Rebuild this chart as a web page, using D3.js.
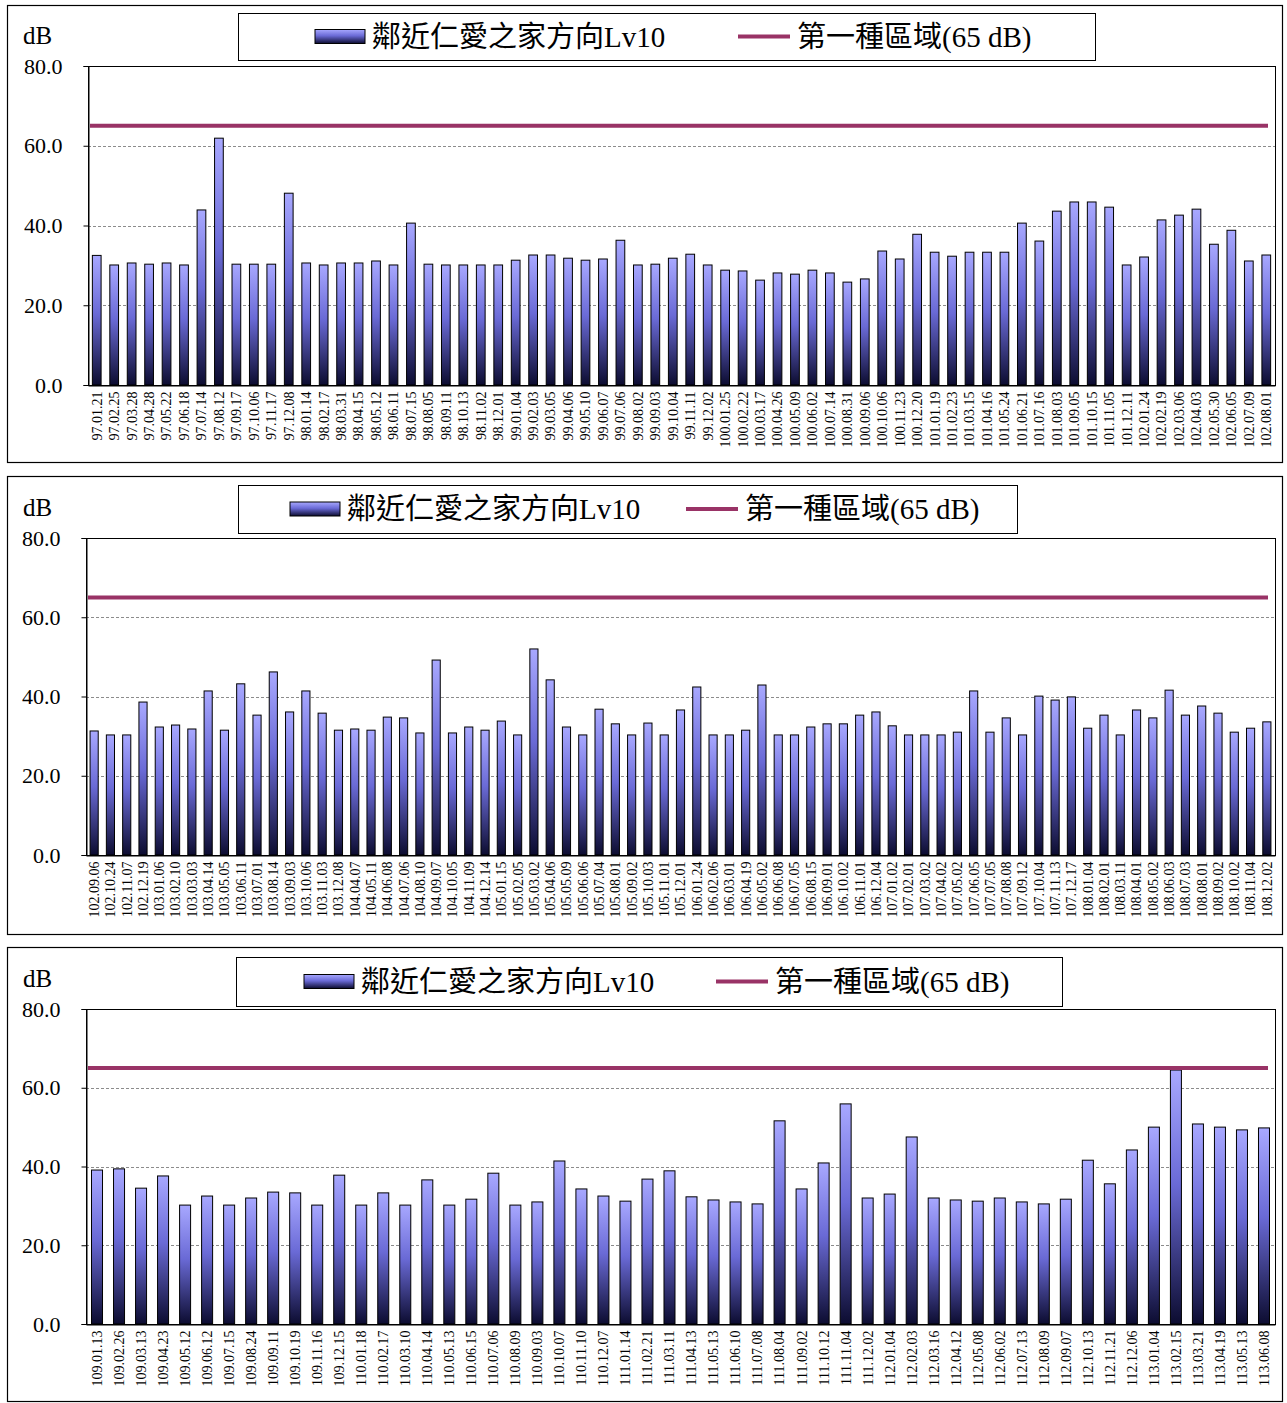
<!DOCTYPE html>
<html>
<head>
<meta charset="utf-8">
<script src="https://cdn.jsdelivr.net/npm/d3@7"></script>
<style>
  html, body { margin: 0; padding: 0; background: #fff; }
  svg { display: block; }
  text { font-family: "Liberation Serif", "Times New Roman", "Noto Sans CJK TC", serif; }
</style>
</head>
<body>
<svg id="chart" width="1287" height="1403"></svg>
<script>
// Survey dates (ROC calendar) and Lv10 noise levels in dB, one set per panel.
const dates1 = ["97.01.21","97.02.25","97.03.28","97.04.28","97.05.22","97.06.18","97.07.14","97.08.12","97.09.17","97.10.06","97.11.17","97.12.08",
  "98.01.14","98.02.17","98.03.31","98.04.15","98.05.12","98.06.11","98.07.15","98.08.05","98.09.11","98.10.13","98.11.02","98.12.01",
  "99.01.04","99.02.03","99.03.05","99.04.06","99.05.10","99.06.07","99.07.06","99.08.02","99.09.03","99.10.04","99.11.11","99.12.02",
  "100.01.25","100.02.22","100.03.17","100.04.26","100.05.09","100.06.02","100.07.14","100.08.31","100.09.06","100.10.06","100.11.23","100.12.20",
  "101.01.19","101.02.23","101.03.15","101.04.16","101.05.24","101.06.21","101.07.16","101.08.03","101.09.05","101.10.15","101.11.05","101.12.11",
  "102.01.24","102.02.19","102.03.06","102.04.03","102.05.30","102.06.05","102.07.09","102.08.01"];
const lv10_1 = [32.5,30.1,30.6,30.3,30.6,30.1,43.9,61.9,30.3,30.3,30.3,48.1,
  30.6,30.1,30.6,30.6,31.1,30.1,40.6,30.3,30.1,30.1,30.1,30.1,
  31.3,32.6,32.6,31.8,31.3,31.6,36.3,30.1,30.3,31.8,32.8,30.1,
  28.8,28.6,26.3,28.1,27.8,28.8,28.1,25.8,26.6,33.6,31.6,37.8,
  33.3,32.3,33.3,33.3,33.3,40.6,36.1,43.6,45.9,45.9,44.6,30.1,
  32.1,41.4,42.6,44.1,35.3,38.8,31.1,32.6];

const dates2 = ["102.09.06","102.10.24","102.11.07","102.12.19","103.01.06","103.02.10","103.03.03","103.04.14","103.05.05","103.06.11","103.07.01","103.08.14",
  "103.09.03","103.10.06","103.11.03","103.12.08","104.04.07","104.05.11","104.06.08","104.07.06","104.08.10","104.09.07","104.10.05","104.11.09",
  "104.12.14","105.01.15","105.02.05","105.03.02","105.04.06","105.05.09","105.06.06","105.07.04","105.08.01","105.09.02","105.10.03","105.11.01",
  "105.12.01","106.01.24","106.02.06","106.03.01","106.04.19","106.05.02","106.06.08","106.07.05","106.08.15","106.09.01","106.10.02","106.11.01",
  "106.12.04","107.01.02","107.02.01","107.03.02","107.04.02","107.05.02","107.06.05","107.07.05","107.08.08","107.09.12","107.10.04","107.11.13",
  "107.12.17","108.01.04","108.02.01","108.03.11","108.04.01","108.05.02","108.06.03","108.07.03","108.08.01","108.09.02","108.10.02","108.11.04",
  "108.12.02"];
const lv10_2 = [31.3,30.3,30.3,38.6,32.3,32.8,31.8,41.4,31.5,43.2,35.3,46.2,
  36.1,41.4,35.8,31.5,31.8,31.5,34.8,34.6,30.8,49.2,30.8,32.3,
  31.5,33.8,30.3,52.0,44.2,32.3,30.3,36.8,33.1,30.3,33.3,30.3,
  36.6,42.4,30.3,30.3,31.5,42.9,30.3,30.3,32.3,33.1,33.1,35.3,
  36.1,32.6,30.3,30.3,30.3,31.0,41.4,31.0,34.6,30.3,40.1,39.1,
  39.9,32.0,35.3,30.3,36.6,34.6,41.6,35.3,37.6,35.8,31.0,32.0,
  33.6];

const dates3 = ["109.01.13","109.02.26","109.03.13","109.04.23","109.05.12","109.06.12","109.07.15","109.08.24","109.09.11","109.10.19","109.11.16","109.12.15",
  "110.01.18","110.02.17","110.03.10","110.04.14","110.05.13","110.06.15","110.07.06","110.08.09","110.09.03","110.10.07","110.11.10","110.12.07",
  "111.01.14","111.02.21","111.03.11","111.04.13","111.05.13","111.06.10","111.07.08","111.08.04","111.09.02","111.10.12","111.11.04","111.12.02",
  "112.01.04","112.02.03","112.03.16","112.04.12","112.05.08","112.06.02","112.07.13","112.08.09","112.09.07","112.10.13","112.11.21","112.12.06",
  "113.01.04","113.02.15","113.03.21","113.04.19","113.05.13","113.06.08"];
const lv10_3 = [39.1,39.4,34.5,37.6,30.2,32.5,30.2,32.0,33.5,33.3,30.2,37.8,
  30.2,33.3,30.2,36.6,30.2,31.7,38.3,30.2,31.0,41.4,34.3,32.5,
  31.2,36.8,38.9,32.3,31.5,31.0,30.5,51.6,34.3,40.9,55.9,32.0,
  33.0,47.5,32.0,31.5,31.2,32.0,31.0,30.5,31.7,41.6,35.6,44.2,
  50.0,64.5,50.8,50.0,49.3,49.8];

// Regulatory limit for the first-class zone, and the value axis ticks.
const limitDb = 65;
const yTicks = [0, 20, 40, 60, 80];
const seriesName = "鄰近仁愛之家方向Lv10";
const limitName = "第一種區域(65 dB)";
const unitLabel = "dB";

const svg = d3.select("#chart");

// Gradient used by every bar: pale periwinkle top fading to deep navy.
const defs = svg.append("defs");
const grad = defs.append("linearGradient")
  .attr("id", "barGrad").attr("x1", 0).attr("y1", 0).attr("x2", 0).attr("y2", 1);
grad.append("stop").attr("offset", "0%").attr("stop-color", "#a8a8ff");
grad.append("stop").attr("offset", "45%").attr("stop-color", "#6a6ad6");
grad.append("stop").attr("offset", "100%").attr("stop-color", "#0c0c30");

const panels = [
  { dates: dates1, values: lv10_1,
    frame: [7, 5, 1282, 462], plot: [88, 66, 1275, 385],
    legend: { box: [238, 13, 1095, 60], sw: 315, line: 738 } },
  { dates: dates2, values: lv10_2,
    frame: [7, 476, 1282, 934], plot: [86, 538, 1275, 855],
    legend: { box: [238, 485, 1017, 533], sw: 290, line: 686 } },
  { dates: dates3, values: lv10_3,
    frame: [7, 947, 1282, 1401], plot: [86, 1009, 1275, 1324],
    legend: { box: [236, 957, 1062, 1006], sw: 304, line: 716 } }
];

panels.forEach(p => {
  const g = svg.append("g");
  const [fx0, fy0, fx1, fy1] = p.frame;
  const [px0, py0, px1, py1] = p.plot;

  // outer chart frame
  g.append("rect").attr("x", fx0 + 0.5).attr("y", fy0 + 0.5)
    .attr("width", fx1 - fx0).attr("height", fy1 - fy0)
    .attr("fill", "#fff").attr("stroke", "#000").attr("stroke-width", 1.2);

  const x = d3.scaleBand().domain(p.dates).range([px0, px1]).paddingInner(0.5).paddingOuter(0.25);
  const y = d3.scaleLinear().domain([0, 80]).range([py1, py0]);

  // dashed gridlines
  g.append("g").selectAll("line").data(yTicks.filter(t => t > 0 && t < 80)).join("line")
    .attr("x1", px0).attr("x2", px1)
    .attr("y1", d => Math.round(y(d)) + 0.5).attr("y2", d => Math.round(y(d)) + 0.5)
    .attr("stroke", "#8c8c8c").attr("stroke-width", 1).attr("stroke-dasharray", "3,2");

  // plot area border
  g.append("rect").attr("x", px0 + 0.5).attr("y", Math.round(y(80)) + 0.5)
    .attr("width", px1 - px0).attr("height", Math.round(y(0)) - Math.round(y(80)))
    .attr("fill", "none").attr("stroke", "#000").attr("stroke-width", 1);

  // bars
  g.append("g").selectAll("rect").data(p.values.map((v, i) => ({ d: p.dates[i], v })))
    .join("rect")
    .attr("x", d => x(d.d)).attr("width", x.bandwidth())
    .attr("y", d => y(d.v)).attr("height", d => y(0) - y(d.v))
    .attr("fill", "url(#barGrad)").attr("stroke", "#000").attr("stroke-width", 1);

  // limit line
  g.append("line")
    .attr("x1", px0 + 2).attr("x2", px1 - 7)
    .attr("y1", y(limitDb)).attr("y2", y(limitDb))
    .attr("stroke", "#993366").attr("stroke-width", 4);

  // y axis
  const yAxis = d3.axisLeft(y).tickValues(yTicks).tickFormat(d3.format(".1f")).tickSize(5).tickPadding(21);
  const ya = g.append("g").attr("transform", `translate(${px0 + 0.5},0)`).call(yAxis);
  ya.select(".domain").attr("stroke", "#000");
  ya.selectAll(".tick text").attr("font-size", 22).attr("fill", "#000")
    .attr("font-family", "'Liberation Serif', serif");

  // x axis with rotated date labels
  const xAxis = d3.axisBottom(x).tickSize(0).tickPadding(6);
  const xa = g.append("g").attr("transform", `translate(0,${Math.round(y(0)) + 0.5})`).call(xAxis);
  xa.select(".domain").attr("stroke", "#000");
  xa.selectAll(".tick text")
    .attr("font-size", 14).attr("fill", "#000")
    .attr("font-family", "'Liberation Serif', serif")
    .attr("transform", "rotate(-90)")
    .attr("text-anchor", "end")
    .attr("x", -6).attr("y", 0).attr("dy", "0.35em");

  // unit label
  g.append("text").attr("x", 23).attr("y", py0 - 22).attr("font-size", 25).text(unitLabel);

  // legend
  const L = p.legend;
  const [lx0, ly0, lx1, ly1] = L.box;
  const ly = (ly0 + ly1) / 2;
  g.append("rect").attr("x", lx0 + 0.5).attr("y", ly0 + 0.5)
    .attr("width", lx1 - lx0).attr("height", ly1 - ly0)
    .attr("fill", "#fff").attr("stroke", "#000").attr("stroke-width", 1);
  g.append("rect").attr("x", L.sw).attr("y", ly - 7).attr("width", 50).attr("height", 14)
    .attr("fill", "url(#barGrad)").attr("stroke", "#000");
  g.append("text").attr("x", L.sw + 57).attr("y", ly + 10).attr("font-size", 29).text(seriesName);
  g.append("line").attr("x1", L.line).attr("x2", L.line + 52).attr("y1", ly).attr("y2", ly)
    .attr("stroke", "#993366").attr("stroke-width", 4);
  g.append("text").attr("x", L.line + 59).attr("y", ly + 10).attr("font-size", 29).text(limitName);
});
</script>
</body>
</html>
